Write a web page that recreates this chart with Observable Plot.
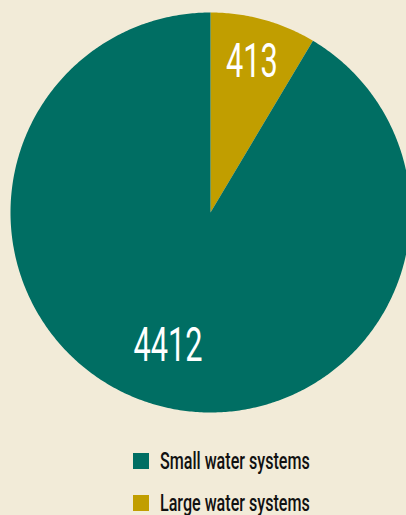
<!DOCTYPE html>
<html>
<head>
<meta charset="utf-8">
<script src="https://cdn.jsdelivr.net/npm/d3@7"></script>
<script src="https://cdn.jsdelivr.net/npm/@observablehq/plot@0.6"></script>
<style>
  html, body { margin: 0; padding: 0; background: #F2EBD8; }
  body { width: 406px; height: 515px; overflow: hidden; font-family: Roboto, "DejaVu Sans", sans-serif; position: relative; }
  #chart svg { display: block; }
  .legend { position: absolute; left: 133px; top: 449px; }
  .item { display: flex; align-items: center; height: 24px; margin-bottom: 18px; font-size: 23px; font-weight: 500; color: #111; }
  .sw { width: 16px; height: 16px; margin-right: 11px; flex: none; }
  .tx { display: inline-block; transform: scaleX(0.7); transform-origin: 0 50%; white-space: nowrap; }
</style>
</head>
<body>
<div id="chart"></div>
<div class="legend" id="legend"></div>
<script>
// Data
const categories = ["Small water systems", "Large water systems"];
const values = [4412, 413];
const colors = ["#006E63", "#C19E00"];
const pieOrder = ["Large water systems", "Small water systems"]; // clockwise from 12 o'clock

// Build slice polygons from the data via d3.pie
const records = pieOrder.map(c => ({category: c, value: values[categories.indexOf(c)]}));
const arcs = d3.pie().sort(null).value(d => d.value)(records);
const polys = [];
const labels = [];
for (const a of arcs) {
  const n = Math.max(2, Math.ceil((a.endAngle - a.startAngle) / 0.01));
  polys.push({category: a.data.category, x: 0, y: 0});
  for (let i = 0; i <= n; i++) {
    const t = a.startAngle + (a.endAngle - a.startAngle) * i / n;
    polys.push({category: a.data.category, x: Math.sin(t), y: Math.cos(t)});
  }
  polys.push({category: a.data.category, x: 0, y: 0});
  const mid = (a.startAngle + a.endAngle) / 2 + (a.data.value < 1000 ? 0 : 0.04);
  const r = a.data.value < 1000 ? 0.78 : 0.70;
  labels.push({category: a.data.category, value: a.data.value, x: Math.sin(mid) * r, y: Math.cos(mid) * r});
}

const chart = Plot.plot({
  width: 406,
  height: 440,
  style: {background: "transparent", overflow: "visible"},
  x: {domain: [-1, 1], range: [10, 410], axis: null},
  y: {domain: [-1, 1], range: [412, 12], axis: null},
  color: {domain: categories, range: colors},
  marks: [
    Plot.line(polys, {x: "x", y: "y", z: "category", fill: "category", stroke: "none"}),
    Plot.text(labels, {x: "x", y: "y", text: d => String(d.value), fill: "white",
      fontSize: 48, fontFamily: "Roboto, sans-serif"})
  ]
});
document.getElementById("chart").appendChild(chart);

// Condense the number labels horizontally
chart.querySelectorAll("text").forEach(el => {
  const tr = el.getAttribute("transform") || "";
  el.setAttribute("transform", `${tr} scale(0.64,1)`);
});

// Legend
const legend = document.getElementById("legend");
categories.forEach((c, i) => {
  const item = document.createElement("div");
  item.className = "item";
  const sw = document.createElement("span");
  sw.className = "sw";
  sw.style.background = colors[i];
  const tx = document.createElement("span");
  tx.className = "tx";
  tx.textContent = c;
  item.appendChild(sw);
  item.appendChild(tx);
  legend.appendChild(item);
});
</script>
</body>
</html>
